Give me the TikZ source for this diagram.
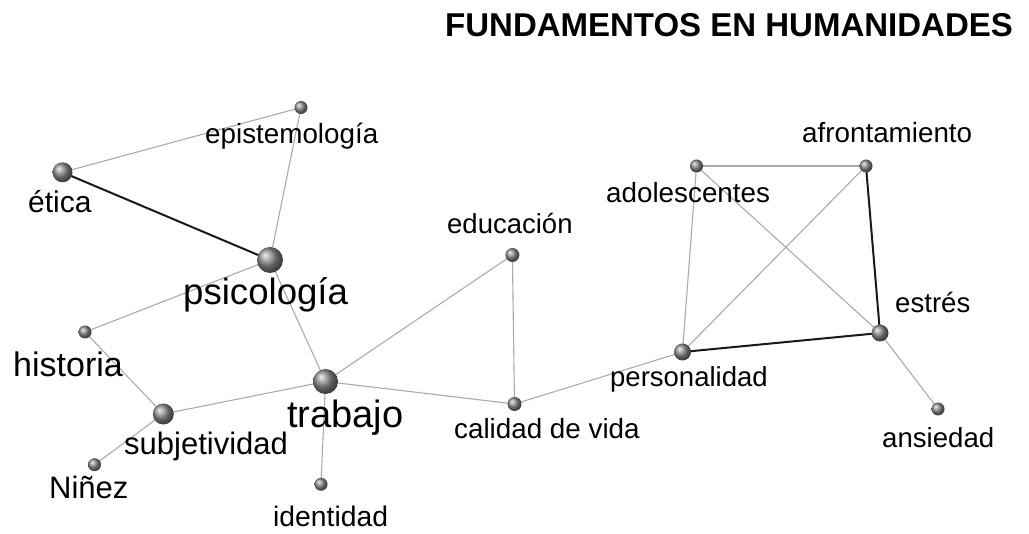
\documentclass[tikz,border=0pt]{standalone}
\usepackage{fontspec}
\setmainfont{Liberation Sans}
\pgfdeclarelayer{bg}
\pgfdeclarelayer{paper}
\pgfsetlayers{paper,bg,main}
\begin{document}
\begin{tikzpicture}[x=1pt,y=-1pt,
  vtx/.style={circle, inner sep=0pt, minimum size=#1, shading=ball, ball color=black!45},
  lbl/.style={anchor=base west, inner sep=0pt, font=\fontsize{#1}{#1}\selectfont},
  weak/.style={draw=black!33, line width=1.1pt},
  strong/.style={draw=black!90, line width=2pt}]
\begin{pgfonlayer}{paper}
\fill[white] (0,0) rectangle (1029,534);
\end{pgfonlayer}
\useasboundingbox (0,0) rectangle (1029,534);
% title
\node[anchor=base west, inner sep=0pt, font=\bfseries\fontsize{33}{36}\selectfont] (title) at (445,37) {FUNDAMENTOS EN HUMANIDADES};
% vertices
\node[vtx=13pt] (epi) at (301,107.5) {};
\node[vtx=20pt] (eti) at (62.5,172.3) {};
\node[vtx=26pt] (psi) at (270,260) {};
\node[vtx=13pt] (his) at (85,332) {};
\node[vtx=21pt] (sub) at (163.3,414) {};
\node[vtx=25pt] (tra) at (325.5,381.5) {};
\node[vtx=13pt] (nin) at (94.5,464.7) {};
\node[vtx=13pt] (ide) at (321,484.3) {};
\node[vtx=14pt] (edu) at (512.4,255) {};
\node[vtx=14pt] (cal) at (514.5,404) {};
\node[vtx=17pt] (per) at (682.5,352) {};
\node[vtx=13pt] (ado) at (696.5,166) {};
\node[vtx=13pt] (afr) at (866,166) {};
\node[vtx=17pt] (est) at (880,333) {};
\node[vtx=13pt] (ans) at (938,409) {};
% labels
\node[lbl=27.8] (epi-l) at (205,144) {epistemología};
\node[lbl=30] (eti-l) at (28,213) {ética};
\node[lbl=36.6] (psi-l) at (183,305) {psicología};
\node[lbl=34] (his-l) at (13,377) {historia};
\node[lbl=31] (sub-l) at (124,455) {subjetividad};
\node[lbl=38] (tra-l) at (287,428) {trabajo};
\node[lbl=31] (nin-l) at (49,499) {Niñez};
\node[lbl=28.3] (ide-l) at (273,527) {identidad};
\node[lbl=27.5] (edu-l) at (447,234) {educación};
\node[lbl=27.8] (cal-l) at (454,439) {calidad de vida};
\node[lbl=27.5] (per-l) at (610,387) {personalidad};
\node[lbl=27.8] (ado-l) at (606,203) {adolescentes};
\node[lbl=27.8] (afr-l) at (802,143) {afrontamiento};
\node[lbl=27.6] (est-l) at (895,313) {estrés};
\node[lbl=27.6] (ans-l) at (882,448) {ansiedad};
% edges
\begin{pgfonlayer}{bg}
\draw[weak] (eti.center) -- (epi.center);
\draw[weak] (epi.center) -- (psi.center);
\draw[weak] (psi.center) -- (his.center);
\draw[weak] (psi.center) -- (tra.center);
\draw[weak] (his.center) -- (sub.center);
\draw[weak] (sub.center) -- (tra.center);
\draw[weak] (sub.center) -- (nin.center);
\draw[weak] (tra.center) -- (ide.center);
\draw[weak] (tra.center) -- (edu.center);
\draw[weak] (tra.center) -- (cal.center);
\draw[weak] (edu.center) -- (cal.center);
\draw[weak] (cal.center) -- (per.center);
\draw[weak] (per.center) -- (ado.center);
\draw[weak] (per.center) -- (afr.center);
\draw[weak] (ado.center) -- (afr.center);
\draw[weak] (ado.center) -- (est.center);
\draw[weak] (est.center) -- (ans.center);
\draw[strong] (eti.center) -- (psi.center);
\draw[strong] (per.center) -- (est.center);
\draw[strong] (afr.center) -- (est.center);
\end{pgfonlayer}
\end{tikzpicture}
\end{document}
